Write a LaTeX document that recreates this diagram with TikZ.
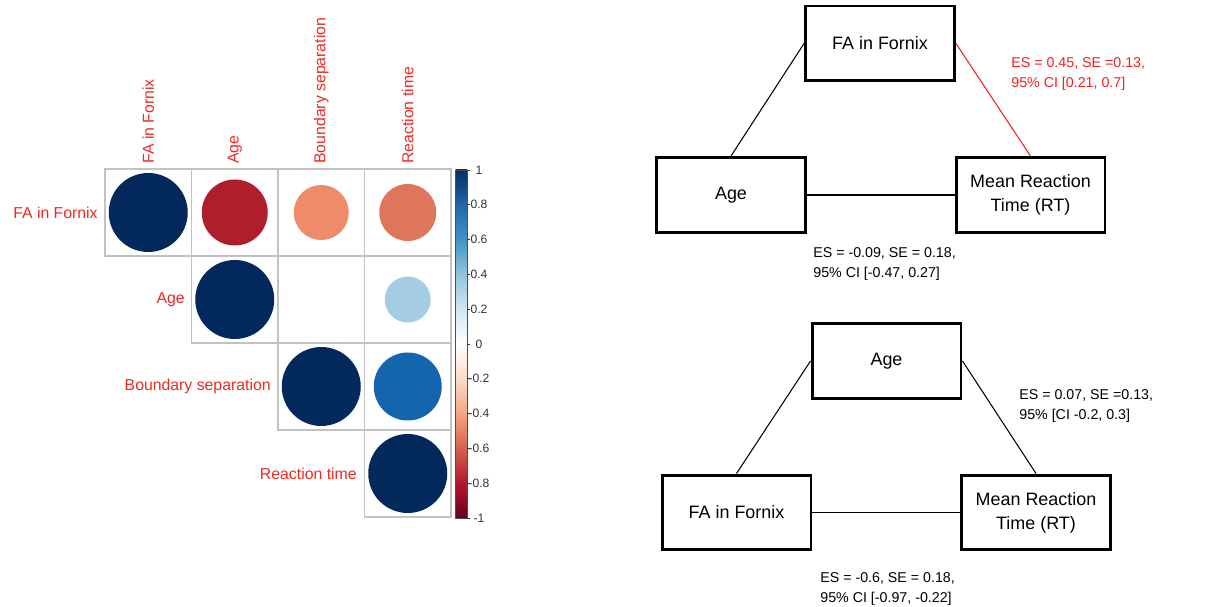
\documentclass[tikz,border=0pt]{standalone}
\usepackage{fontspec}
\setmainfont{Liberation Sans}
\definecolor{corlab}{HTML}{EC2A22}
\definecolor{esred}{HTML}{F41E1E}
\definecolor{cellgray}{HTML}{C2C2C2}
\definecolor{navy}{HTML}{03285C}
\definecolor{rb0}{HTML}{67001F}
\definecolor{rb1}{HTML}{B2182B}
\definecolor{rb2}{HTML}{D6604D}
\definecolor{rb3}{HTML}{F4A582}
\definecolor{rb4}{HTML}{FDDBC7}
\definecolor{rb5}{HTML}{FFFFFF}
\definecolor{rb6}{HTML}{D1E5F0}
\definecolor{rb7}{HTML}{92C5DE}
\definecolor{rb8}{HTML}{4393C3}
\definecolor{rb9}{HTML}{2166AC}
\definecolor{rb10}{HTML}{053061}
\begin{document}
\begin{tikzpicture}[x=0.02cm,y=-0.02cm,
  cell/.style={draw=cellgray,line width=0.6pt},
  corlab/.style={text=corlab,inner sep=0pt,font=\fontsize{9}{11}\selectfont},
  barlab/.style={text=black!80,inner sep=0pt,font=\fontsize{6.9}{8}\selectfont},
  box/.style={draw,line width=1.7pt,minimum width=2.98cm,minimum height=1.5cm,align=center,font=\fontsize{10.2}{13.7}\selectfont},
  link/.style={line width=0.6pt},
  stat/.style={align=left,anchor=north west,inner sep=0pt,font=\fontsize{8.1}{11.4}\selectfont}]
\useasboundingbox (0,0) rectangle (1220,607);
\foreach \r/\c in {1/1,1/2,1/3,1/4,2/2,2/3,2/4,3/3,3/4,4/4}
  \draw[cell] ({105+86.5*(\c-1)},{169+87*(\r-1)}) rectangle ++(86.5,87);
\fill[navy] (148.25,212.5) circle (39.5);
\fill[color={rgb,255:red,177;green,30;blue,43}] (234.75,212.5) circle (33);
\fill[color={rgb,255:red,238;green,139;blue,105}] (321.25,212.5) circle (27.5);
\fill[color={rgb,255:red,221;green,118;blue,90}] (407.75,212.5) circle (28.5);
\fill[navy] (234.75,299.5) circle (39.5);
\fill[color={rgb,255:red,164;green,205;blue,227}] (407.75,299.5) circle (23);
\fill[navy] (321.25,386.5) circle (39.5);
\fill[color={rgb,255:red,21;green,101;blue,172}] (407.75,386.5) circle (34);
\fill[navy] (407.75,473.5) circle (39.5);
\node[corlab,anchor=east] (rfa) at (98,212.5) {FA in Fornix};
\node[corlab,anchor=east] (rage) at (185,299.5) {Age};
\node[corlab,anchor=east] (rbs) at (271,386.5) {Boundary separation};
\node[corlab,anchor=east] (rrt) at (357,473.5) {Reaction time};
\node[corlab,rotate=90,anchor=west] (cfa) at (148.25,164) {FA in Fornix};
\node[corlab,rotate=90,anchor=west] (cage) at (234.75,164) {Age};
\node[corlab,rotate=90,anchor=west] (cbs) at (321.25,164) {Boundary separation};
\node[corlab,rotate=90,anchor=west] (crt) at (407.75,164) {Reaction time};
\foreach \i [count=\j] in {0,...,9}
  \shade[bottom color=rb\i,top color=rb\j] (455.5,{518-34.8*\i}) rectangle (467,{518-34.8*\j});
\draw[black!70,line width=0.4pt] (455.5,170) rectangle (467,518);
\foreach \v [count=\k] in {1,0.8,0.6,0.4,0.2,0,-0.2,-0.4,-0.6,-0.8,-1}{
  \draw[black!80,line width=0.5pt] (467,{344-174*\v}) -- ++(3,0);
  \node[barlab] (tick\k) at (479,{344-174*\v}) {\v};
}
\node[box] (fa1) at (880,43.5) {FA in Fornix};
\node[box] (age1) at (731,195) {Age};
\node[box] (rt1) at (1030.5,195) {Mean Reaction\\Time (RT)};
\draw[link] (age1.north) -- (fa1.west);
\draw[link,esred] (fa1.east) -- (rt1.north);
\draw[link] (age1.east) -- (rt1.west);
\node[stat,text=esred] (es1) at (1011,57) {ES = 0.45, SE =0.13,\\95\% CI [0.21, 0.7]};
\node[stat] (es2) at (813,247) {ES = -0.09, SE = 0.18,\\95\% CI [-0.47, 0.27]};
\node[box] (age2) at (886.5,361) {Age};
\node[box] (fa2) at (736.5,512.5) {FA in Fornix};
\node[box] (rt2) at (1036,512.5) {Mean Reaction\\Time (RT)};
\draw[link] (fa2.north) -- (age2.west);
\draw[link] (age2.east) -- (rt2.north);
\draw[link] (fa2.east) -- (rt2.west);
\node[stat] (es3) at (1019,389) {ES = 0.07, SE =0.13,\\95\% [CI -0.2, 0.3]};
\node[stat] (es4) at (820,572) {ES = -0.6, SE = 0.18,\\95\% CI [-0.97, -0.22]};
\end{tikzpicture}
\end{document}
